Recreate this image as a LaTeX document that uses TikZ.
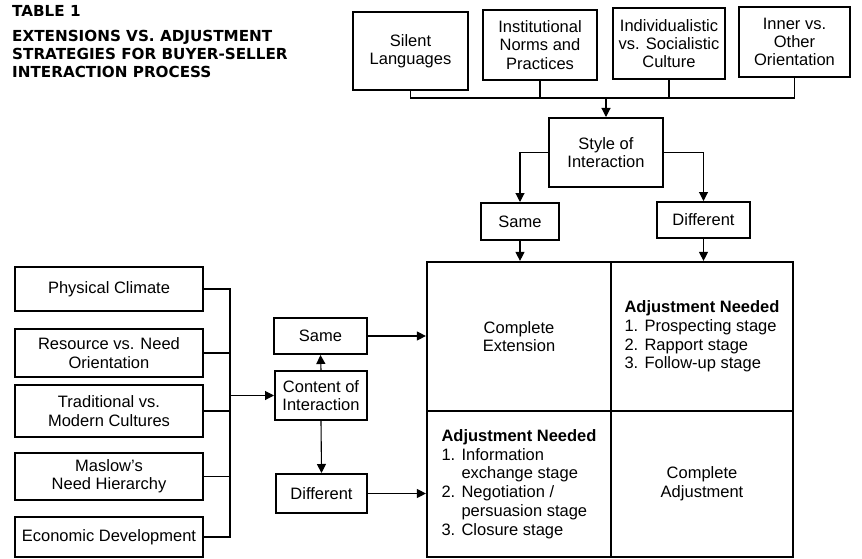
\documentclass[tikz,border=0pt]{standalone}
\usepackage{fontspec}
\setmainfont{Liberation Sans}
\newfontfamily\ttlfont{DejaVu Sans}
\usetikzlibrary{arrows.meta}
\newcommand\nm[1]{\makebox[20pt][l]{#1}}
\newcommand\ind{\hspace*{20pt}}
\begin{document}
\begin{tikzpicture}[x=1pt,y=-1pt,
  box/.style={draw,line width=2pt,inner sep=0pt,align=center,font=\fontsize{16.5}{18.3}\selectfont},
  cell/.style={draw,line width=2.2pt,inner sep=0pt,align=left,font=\fontsize{16.5}{18.7}\selectfont},
  conn/.style={line width=1.1pt},
  arr/.style={line width=1.1pt,-{Triangle[length=9pt,width=9pt]}},
  ttl/.style={inner sep=0pt,align=left,font=\ttlfont\fontsize{15.2}{18}\selectfont\bfseries}]
\useasboundingbox (0,0) rectangle (862,559);
% title
\node[ttl,anchor=base west] (t1) at (12,17) {TABLE 1};
\node[ttl,anchor=base west] (t2) at (12,78) {EXTENSIONS VS. ADJUSTMENT\\STRATEGIES FOR BUYER-SELLER\\INTERACTION PROCESS};
% top boxes
\node[box,minimum width=115pt,minimum height=78pt] (sl) at (410.5,51) {Silent\\Languages};
\node[box,minimum width=114pt,minimum height=70pt] (inp) at (540,45) {Institutional\\Norms and\\Practices};
\node[box,minimum width=112pt,minimum height=71pt] (isc) at (669,43.5) {Individualistic\\vs. Socialistic\\Culture};
\node[box,minimum width=111pt,minimum height=70pt] (ioo) at (794.5,42) {Inner vs.\\Other\\Orientation};
\coordinate (tb) at (606,98);
\draw[conn] (sl.south) |- (ioo.south |- tb) -- (ioo.south);
\draw[conn] (inp.south) -- (inp.south |- tb);
\draw[conn] (isc.south) -- (isc.south |- tb);
% style
\node[box,minimum width=114pt,minimum height=69pt] (style) at (606,152.5) {Style of\\Interaction};
\draw[arr] (tb) -- (style.north);
\node[box,minimum width=78pt,minimum height=37pt] (same1) at (520,221.5) {Same};
\node[box,minimum width=93pt,minimum height=36pt] (diff1) at (703.5,220) {Different};
\draw[arr] (style.west) -| (same1.north);
\draw[arr] (style.east) -| (diff1.north);
% matrix
\node[cell,minimum width=184pt,minimum height=149pt,align=center] (ce) at (519,336.5) {Complete\\Extension};
\node[cell,minimum width=182pt,minimum height=149pt] (an1) at (702,336.5) {\textbf{Adjustment Needed}\\\nm{1.}Prospecting stage\\\nm{2.}Rapport stage\\\nm{3.}Follow-up stage};
\node[cell,minimum width=184pt,minimum height=146pt] (an2) at (519,484) {\textbf{Adjustment Needed}\\\nm{1.}Information\\\ind exchange stage\\\nm{2.}Negotiation /\\\ind persuasion stage\\\nm{3.}Closure stage};
\node[cell,minimum width=182pt,minimum height=146pt,align=center] (ca) at (702,484) {Complete\\Adjustment};
\draw[arr] (same1.south) -- (same1.south |- ce.north);
\draw[arr] (diff1.south) -- (diff1.south |- an1.north);
% left boxes
\node[box,minimum width=188pt,minimum height=44pt] (pc) at (109,289) {Physical Climate};
\node[box,minimum width=188pt,minimum height=48pt] (rn) at (109,353) {Resource vs. Need\\Orientation};
\node[box,minimum width=188pt,minimum height=52pt] (tm) at (109,411) {Traditional vs.\\Modern Cultures};
\node[box,minimum width=188pt,minimum height=47pt] (mn) at (109,476.5) {Maslow's\\Need Hierarchy};
\node[box,minimum width=188pt,minimum height=40pt] (ed) at (109,537) {Economic Development};
\coordinate (lb) at (230,395.5);
\draw[conn] (pc.east) -| (lb |- ed.east) -- (ed.east);
\draw[conn] (rn.east) -- (rn.east -| lb);
\draw[conn] (tm.east) -- (tm.east -| lb);
\draw[conn] (mn.east) -- (mn.east -| lb);
% content
\node[box,minimum width=93pt,minimum height=36pt] (same2) at (320.5,336) {Same};
\node[box,minimum width=92pt,minimum height=49pt] (cont) at (321,395.5) {Content of\\Interaction};
\node[box,minimum width=91pt,minimum height=39pt] (diff2) at (321.5,493.5) {Different};
\draw[arr] (lb) -- (cont.west);
\draw[arr] (cont.north) -- (same2.south);
\draw[arr] (cont.south) -- (diff2.north);
\draw[arr] (same2.east) -- (same2.east -| ce.west);
\draw[arr] (diff2.east) -- (diff2.east -| an2.west);
\end{tikzpicture}
\end{document}
